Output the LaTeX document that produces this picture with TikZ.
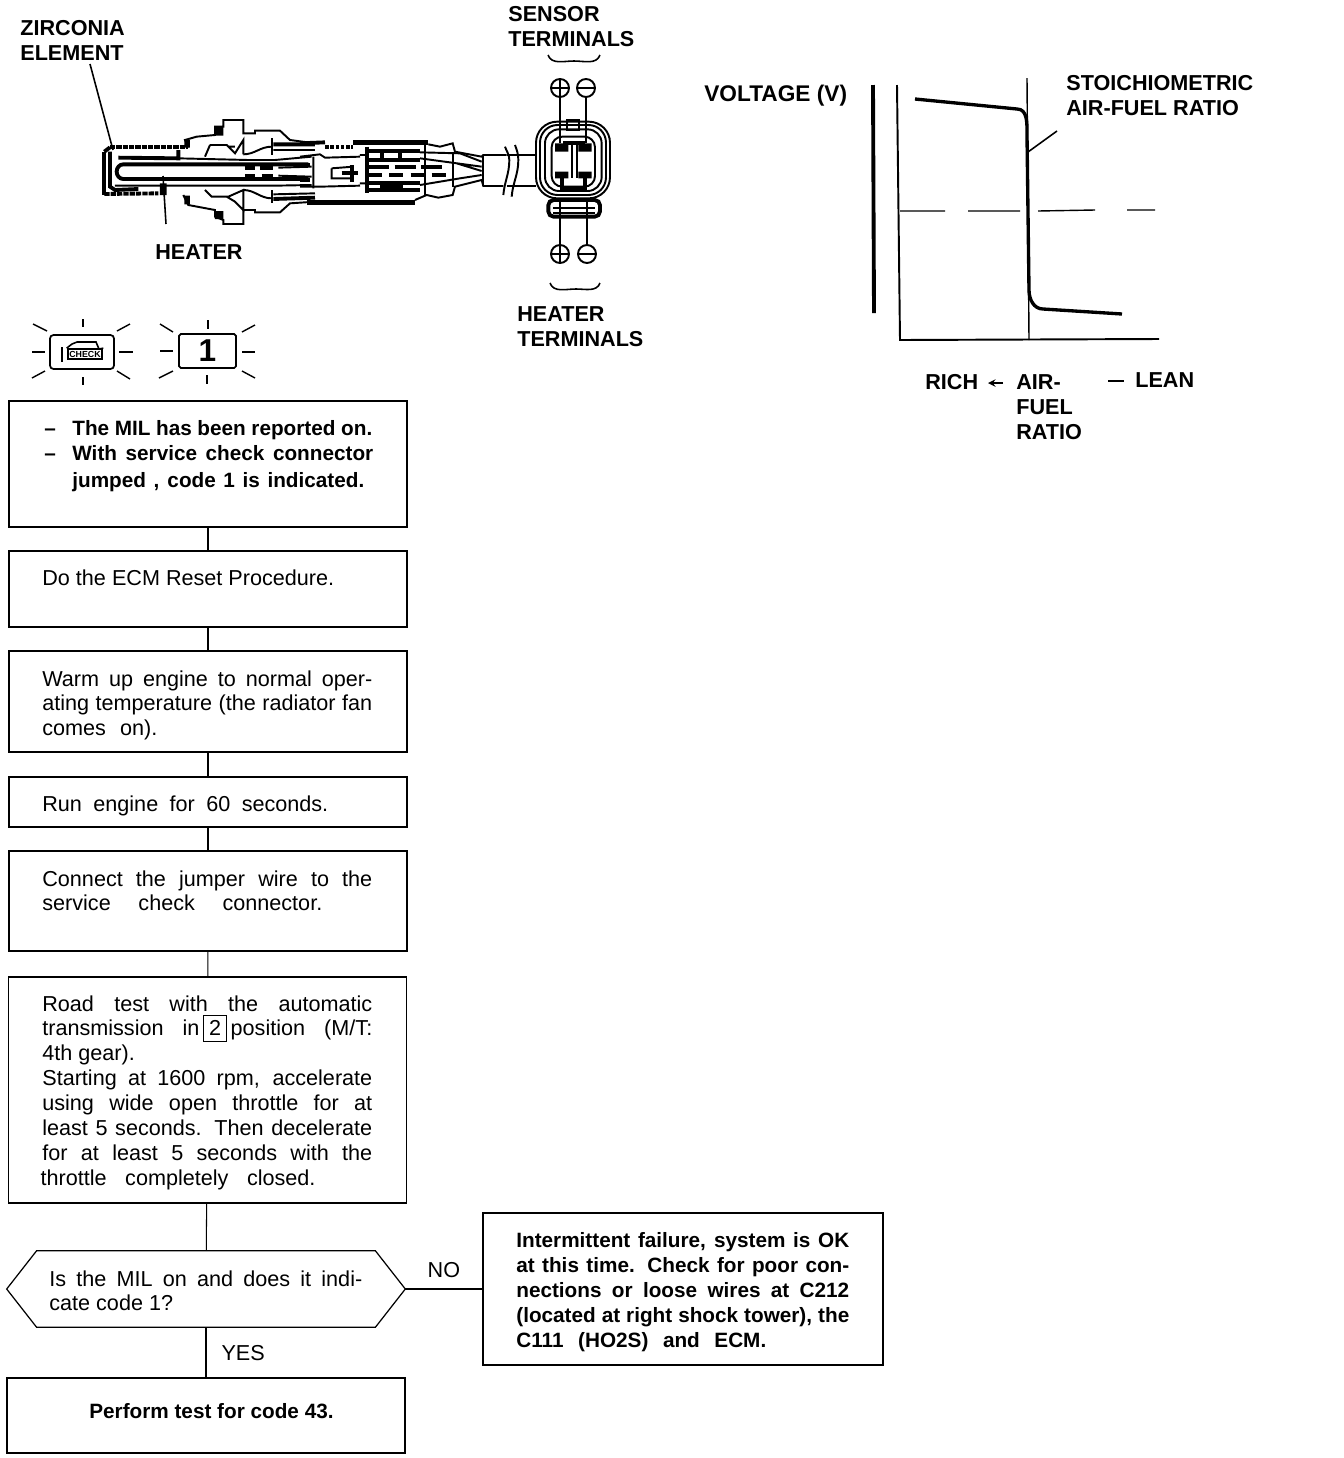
\documentclass[tikz,border=0pt]{standalone}
\usepackage{fontspec}
\setmainfont{Liberation Sans}
\usetikzlibrary{positioning}
\newcommand{\jline}[2][6.6cm]{\makebox[#1][s]{#2}}
\begin{document}
\begin{tikzpicture}[
    x=0.02cm, y=-0.02cm,
    % Flow chart boxes
    flow box/.style={draw, line width=0.7pt, minimum width=7.96cm, inner sep=0pt},
    flow text/.style={anchor=north west, inner sep=0pt, align=left, font=\fontsize{12.3}{14.2}\selectfont},
    bold text/.style={flow text, font=\fontsize{11.8}{14.2}\selectfont\bfseries},
    part label/.style={flow text, font=\fontsize{12.3}{14.2}\selectfont\bfseries},
    flow edge/.style={line width=0.6pt},
    % Sensor and graph
    leader/.style={line width=0.9pt},
    part line/.style={line width=1.1pt},
    heavy line/.style={line width=2.2pt},
    terminal/.style={circle, draw, line width=1.1pt, minimum size=0.36cm, inner sep=0pt},
    ray/.style={line width=0.8pt}
  ]
  \useasboundingbox (0,0) rectangle (1344,1458);

  % --- Labels of the sensor ---
  \node[part label] (zirconia) at (20,20) {ZIRCONIA\\ELEMENT};
  \node[part label] (sensorlabel) at (508,6) {SENSOR\\TERMINALS};
  \node[part label] (heaterlabel) at (155,244) {HEATER};
  \node[part label] (heaterterm) at (517,306) {HEATER\\TERMINALS};
  \coordinate (zirconia end) at (113,150);
  \coordinate (heater end) at (163,176);
  \draw[leader] (90,64) -- (zirconia end);
  \draw[leader] (heater end) -- (166,224);

  % --- Sensor, front half ---
  \begin{scope}[shift={(95,115)}, x=0.00667cm, y=-0.00667cm]
    \draw[part line] (280,97) -- (270,75) -- (305,65) -- (360,60) -- (360,35) -- (385,35) -- (385,15) -- (445,15) -- (445,55) -- (480,55) -- (480,47) -- (555,47) -- (585,75) -- (660,85);
    \draw[part line] (265,240) -- (280,270) -- (360,285) -- (360,305) -- (385,315) -- (385,327) -- (445,327) -- (445,285) -- (480,285) -- (480,292) -- (555,292) -- (585,265) -- (660,260);
    \draw[heavy line] (28,110) -- (45,97);
    \draw[heavy line, dash pattern=on 3pt off 0.6pt] (45,97) -- (280,97);
    \draw[heavy line] (28,110) -- (28,240);
    \draw[heavy line, dash pattern=on 3pt off 0.6pt] (28,237) -- (190,235);
    \draw[heavy line] (45,110) -- (45,215) -- (60,225) -- (130,222);
    \draw[heavy line] (640,148) -- (85,148) to[out=180, in=90] (65,170) to[out=-90, in=180] (85,192) -- (640,192);
    \draw[heavy line] (70,128) -- (250,130) -- (250,105);
    \draw[part line] (250,130) -- (460,135) -- (540,135) -- (650,125);
    \draw[part line] (60,212) -- (330,212) -- (540,212) -- (650,210);
    \fill (360,35) rectangle (385,62) (360,288) rectangle (385,312) (268,75) rectangle (285,98) (268,242) rectangle (285,268) (195,205) rectangle (215,240);
    \draw[part line] (345,90) -- (330,125) (345,90) -- (395,90) -- (420,115) -- (445,75) -- (445,118) (400,95) -- (420,95);
    \draw[part line] (330,225) -- (350,245) -- (400,245) -- (445,225) -- (445,285) -- (420,260) -- (395,245);
    \draw[part line] (445,118) to[out=0, in=180] (530,95) (445,225) to[out=0, in=180] (530,250);
    \draw[part line] (530,70) -- (530,120) (530,225) -- (530,265);
    \draw[heavy line] (535,88) -- (660,88) (535,252) -- (660,248);
    \draw[part line] (535,105) -- (660,105) (535,238) -- (660,235);
    \draw[heavy line] (450,158) -- (480,158) (495,158) -- (535,158) (450,184) -- (480,184) (500,184) -- (535,184);
    \draw[part line] (550,158) -- (650,155) (550,182) -- (650,185);
  \end{scope}

  % --- Sensor, rear half ---
  \begin{scope}[shift={(300,115)}, x=0.00667cm, y=-0.00667cm]
    \draw[heavy line] (0,85) -- (75,82);
    \draw[heavy line, dash pattern=on 2pt off 1pt] (75,95) -- (160,95);
    \draw[line width=2.6pt] (160,82) -- (385,82) (20,262) -- (345,262);
    \draw[part line] (385,88) -- (420,95) -- (458,85) -- (465,110) -- (545,125) -- (550,120) -- (620,120);
    \draw[part line] (345,255) -- (380,240) -- (415,248) -- (458,240) -- (465,215) -- (545,195) -- (550,213) -- (610,213);
    \draw[heavy line] (200,95) -- (200,235);
    \draw[part line] (375,85) -- (375,240) (460,110) -- (460,215) (550,120) -- (550,213);
    \draw[heavy line] (205,108) -- (360,108) (205,135) -- (360,135) (205,205) -- (360,205) (205,225) -- (360,225);
    \draw[heavy line] (245,115) -- (245,130) (300,115) -- (300,130) (240,212) -- (310,212);
    \draw[heavy line, dash pattern=on 12pt off 3pt] (205,155) -- (440,155);
    \draw[heavy line, dash pattern=on 8pt off 4pt] (205,180) -- (440,180);
    \draw[part line] (0,125) -- (60,118) -- (75,128) -- (180,125) (180,120) -- (200,120);
    \draw[part line] (0,215) -- (60,215) -- (180,212) (180,205) -- (200,205);
    \draw[heavy line] (0,150) -- (30,150) (0,195) -- (30,195);
    \draw[part line] (40,125) -- (40,220) (95,160) -- (95,190) -- (160,190) (95,160) -- (160,155);
    \draw[heavy line] (125,175) -- (175,175) (155,150) -- (155,200);
    \draw[part line] (360,112) -- (480,115) -- (545,140) (360,130) -- (545,155) (470,145) -- (545,168) (360,210) -- (480,190) -- (545,180);
    % cable break
    \draw[part line] (615,95) to[out=-70, in=90] (628,135) to[out=-90, in=85] (610,240);
    \draw[part line] (645,90) to[out=-70, in=90] (655,135) to[out=-90, in=85] (635,245);
  \end{scope}

  % --- Connector ---
  \begin{scope}[shift={(520,110)}, x=0.00667cm, y=-0.00667cm]
    \draw[part line] (-40,135) -- (48,135) (-40,228) -- (48,228);
    \draw[part line, rounded corners=12pt] (48,35) rectangle (270,265);
    \draw[part line, rounded corners=10pt] (60,45) rectangle (258,255);
    \draw[part line, rounded corners=8pt] (75,58) rectangle (245,243);
    \draw[part line, rounded corners=6pt] (95,80) rectangle (225,230);
    \draw[heavy line, rounded corners=3pt] (85,270) rectangle (240,320);
    \draw[part line] (100,295) -- (225,295) (100,310) -- (225,310);
    \draw[part line] (140,30) rectangle (178,60);
    \fill (105,100) rectangle (145,125) (175,100) rectangle (215,125) (105,185) rectangle (145,205) (175,185) rectangle (215,205);
    \draw[heavy line] (130,100) -- (195,100);
    \draw[part line] (155,100) -- (155,205) (170,100) -- (170,205);
    \draw[heavy line] (125,205) -- (125,235) -- (195,235) -- (195,205);
  \end{scope}

  % --- Terminals ---
  \node[terminal] (top plus) at (560,88) {};
  \node[terminal] (top minus) at (586,88) {};
  \node[terminal] (low plus) at (560,254) {};
  \node[terminal] (low minus) at (587,254) {};
  \draw[part line] (top plus.north) -- (top plus.south) (top plus.west) -- (top plus.east) (low plus.north) -- (low plus.south) (low plus.west) -- (low plus.east);
  \draw[part line] (top minus.west) -- (top minus.east) (low minus.west) -- (low minus.east);
  \coordinate (top plus end) at (560,143);
  \coordinate (top minus end) at (586,143);
  \coordinate (low plus end) at (560,200);
  \coordinate (low minus end) at (587,200);
  \draw[leader, line width=1.3pt] (top plus) -- (top plus end);
  \draw[leader, line width=1.3pt] (top minus) -- (top minus end);
  \draw[leader, line width=1.3pt] (low plus) -- (low plus end);
  \draw[leader, line width=1.3pt] (low minus) -- (low minus end);
  % brackets
  \draw[leader] (548,55) to[out=-70, in=180] (574,61) to[out=0, in=-110] (600,55);
  \draw[leader] (550,283) to[out=-70, in=180] (576,289) to[out=0, in=-110] (600,283);

  % --- Graph ---
  \node[part label, font=\fontsize{12.9}{14.2}\selectfont\bfseries] (voltage) at (704,85) {VOLTAGE (V)};
  \node[part label] (stoich) at (1066,75) {\jline[3.78cm]{STOICHIOMETRIC}\\AIR-FUEL RATIO};
  \node[part label] (rich) at (925,374) {RICH};
  \node[part label] (airfuel) at (1016,374) {AIR-\\FUEL\\RATIO};
  \node[part label] (lean) at (1135,372) {LEAN};
  \coordinate (arrow right) at (1003,383);
  \coordinate (arrow left) at (988,383);
  \draw[leader, ->, >=stealth] (arrow right) -- (arrow left);
  \coordinate (dash left) at (1108,381);
  \draw[leader, line width=1.2pt] (dash left) -- (1124,381);
  \draw[heavy line] (873,85) -- (874,313);
  \draw[line width=1.1pt] (897,85) -- (900,340) -- (1159,339);
  \draw[line width=0.8pt] (1027,78) -- (1029,340);
  \draw[line width=0.8pt] (900,211) -- (945,211) (968,211) -- (1020,211) (1038,211) -- (1095,210) (1127,210) -- (1155,210);
  \draw[line width=1.9pt] (915,99) -- (1017,109) to[out=0, in=90] (1027,135) -- (1029,290) to[out=-90, in=180] (1043,309) -- (1122,314);
  \draw[leader] (1028,152) -- (1057,131);

  % --- Warning lamps ---
  \node[draw, line width=1pt, rounded corners=2pt, minimum width=1.28cm, minimum height=0.68cm, inner sep=0pt] (check lamp) at (82,352) {};
  \node[draw, line width=1.1pt, inner sep=1pt, font=\fontsize{5}{5}\selectfont\bfseries] (check word) at (85,354) {CHECK};
  \draw[line width=0.9pt] (check word.north west) -- (72,344) -- (77,342) -- (96,342) -- (99,349) -- (check word.north east);
  \draw[line width=1.1pt] (62,347) -- (62,362);
  \node[draw, line width=1pt, rounded corners=1pt, minimum width=1.14cm, minimum height=0.68cm, inner sep=0pt, font=\fontsize{18}{20}\selectfont\bfseries] (code lamp) at (207.5,351) {1};
  \foreach \xa/\ya/\xb/\yb in {32/352/45/352, 119/352/133/352, 83/319/83/327, 83/377/83/385, 33/324/47/331, 117/331/130/324, 32/378/45/371, 117/371/130/379,
    160/351/173/351, 242/352/255/352, 208/320/208/329, 207/375/207/384, 160/324/173/332, 242/332/255/325, 159/378/173/371, 242/371/255/378}
    \draw[ray] (\xa,\ya) -- (\xb,\yb);

  % --- Flow chart boxes ---
  \node[flow box, minimum height=2.52cm] (mil) at (208,464) {};
  \node[flow box, minimum height=1.52cm] (reset) at (208,589) {};
  \node[flow box, minimum height=2.02cm] (warm) at (208,701.5) {};
  \node[flow box, minimum height=1cm] (run) at (208,802) {};
  \node[flow box, minimum height=2cm] (connect) at (208,901) {};
  \node[flow box, minimum height=4.52cm] (road) at (207.5,1090) {};
  \node[inner sep=0pt, minimum width=7.96cm, minimum height=1.52cm] (ison) at (206,1289) {};
  \draw[line width=0.7pt] (ison.west) -- ([xshift=0.6cm]ison.north west) -- ([xshift=-0.6cm]ison.north east) -- (ison.east) -- ([xshift=-0.6cm]ison.south east) -- ([xshift=0.6cm]ison.south west) -- cycle;
  \node[flow box, minimum height=1.5cm] (perform) at (206,1415.5) {};
  \node[flow box, minimum width=8cm, minimum height=3.04cm] (fail) at (683,1289) {};

  % --- Flow chart texts ---
  \node[bold text] (miltext) at (44,420) {\makebox[0.56cm][l]{--}\jline[6cm]{The MIL has been reported on.}\\\makebox[0.56cm][l]{--}\jline[6.02cm]{With service check connector}\\[1.5pt]\hspace*{0.56cm}\jline[5.84cm]{jumped , code 1 is indicated.}};
  \node[flow text] (resettext) at (42,569) {Do the ECM Reset Procedure.};
  \node[flow text] (warmtext) at (42,670) {\jline{Warm up engine to normal oper-}\\\jline{ating temperature (the radiator fan}\\\jline[2.3cm]{comes on).}};
  \node[flow text] (runtext) at (42,795) {\jline[5.72cm]{Run engine for 60 seconds.}};
  \node[flow text] (connecttext) at (42,870) {\jline{Connect the jumper wire to the}\\\jline[5.6cm]{service\hspace{1em} check\hspace{1em} connector.}};
  \node[flow text] (roadtext) at (42,995) {\jline{Road test with the automatic}\\\jline{transmission in\,\raisebox{0pt}[0pt][0pt]{\fboxsep=3pt\fbox{2}}\,position (M/T:}\\4th gear).\\\jline{Starting at 1600 rpm, accelerate}\\\jline{using wide open throttle for at}\\\jline{least 5 seconds. Then decelerate}\\\jline{for at least 5 seconds with the}\\\hspace*{-1pt}\jline[5.5cm]{throttle completely closed.}};
  \node[flow text] (isontext) at (49,1270) {\jline[6.26cm]{Is the MIL on and does it indi-}\\cate code 1?};
  \node[bold text] (performtext) at (89,1403) {Perform test for code 43.};
  \node[bold text] (failtext) at (516,1232) {\jline[6.66cm]{Intermittent failure, system is OK}\\\jline[6.66cm]{at this time. Check for poor con-}\\\jline[6.66cm]{nections or loose wires at C212}\\\jline[6.66cm]{(located at right shock tower), the}\\\jline[5cm]{C111 (HO2S) and ECM.}};

  % --- Flow chart edges ---
  \draw[flow edge] (mil) -- (reset);
  \draw[flow edge] (reset) -- (warm);
  \draw[flow edge] (warm) -- (run);
  \draw[flow edge] (run) -- (connect);
  \draw[flow edge] (connect) -- (road);
  \draw[flow edge] (road) -- (ison);
  \draw[flow edge] (ison) -- node[flow text, anchor=west, xshift=0.3cm, yshift=-0.02cm] (yes) {YES} (perform);
  \draw[flow edge] (ison) -- node[flow text, anchor=south, yshift=0.22cm] (no) {NO} (fail);
\end{tikzpicture}
\end{document}
